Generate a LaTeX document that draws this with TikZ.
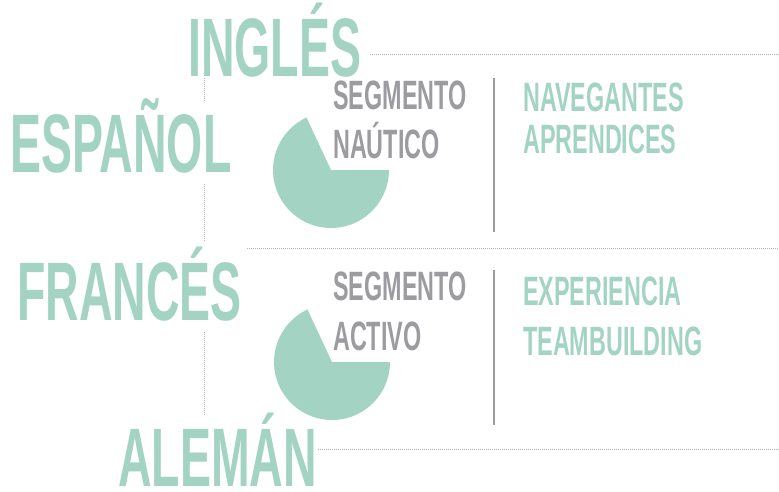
\documentclass[tikz,border=0pt]{standalone}
\usepackage{fontspec}
\newfontfamily\condfont[FakeStretch=0.56]{Liberation Sans}
\newfontfamily\smallcond[FakeStretch=0.57]{Liberation Sans}
\definecolor{mint}{HTML}{A3D3C3}
\definecolor{slate}{HTML}{9B9BA0}

\begin{document}
\begin{tikzpicture}[x=1pt,y=1pt,
    lang/.style={font=\condfont\bfseries\fontsize{83}{83}\selectfont,text=mint,inner sep=0,anchor=base west},
    seg/.style={font=\smallcond\bfseries\fontsize{41}{41}\selectfont,text=slate,inner sep=0,anchor=base west},
    tgt/.style={font=\smallcond\bfseries\fontsize{41}{41}\selectfont,text=mint,inner sep=0,anchor=base west},
    sep/.style={draw=gray!60,dash pattern=on 1pt off 1pt,line width=.6pt},
    bar/.style={draw=slate,line width=1.3pt}]
    \useasboundingbox (0,0) rectangle (779,-491);

    % languages
    \node[lang] (ingles) at (188,-76) {INGLÉS};
    \node[lang] (espanol) at (10,-172) {ESPAÑOL};
    \node[lang] (frances) at (17,-320) {FRANCÉS};
    \node[lang] (aleman) at (118,-486) {ALEMÁN};

    % segments
    \node[seg] (seg1a) at (333,-109) {SEGMENTO};
    \node[seg] (seg1b) at (333,-158) {NAÚTICO};
    \node[seg] (seg2a) at (333,-300) {SEGMENTO};
    \node[seg] (seg2b) at (333,-350) {ACTIVO};

    \node[tgt] (tgt1a) at (523,-111) {NAVEGANTES};
    \node[tgt] (tgt1b) at (523,-153) {APRENDICES};
    \node[tgt] (tgt2a) at (523,-305) {EXPERIENCIA};
    \node[tgt] (tgt2b) at (523,-355) {TEAMBUILDING};

    % pies
    \coordinate (pie1) at (331,-170);
    \coordinate (pie2) at (332,-362);
    \fill[mint] (pie1) -- ++(115:58) arc[start angle=115,end angle=360,radius=58] -- cycle;
    \fill[mint] (pie2) -- ++(115:58) arc[start angle=115,end angle=360,radius=58] -- cycle;

    % separators
    \coordinate (h1a) at (370,-54);   \coordinate (h1b) at (779,-54);
    \coordinate (h2a) at (247,-248);  \coordinate (h2b) at (779,-248);
    \coordinate (h3a) at (318,-449);  \coordinate (h3b) at (779,-449);
    \path[sep] (h1a) -- (h1b);
    \path[sep] (h2a) -- (h2b);
    \path[sep] (h3a) -- (h3b);

    \coordinate (v1a) at (204,-78);   \coordinate (v1b) at (204,-102);
    \coordinate (v2a) at (204,-184);  \coordinate (v2b) at (204,-242);
    \coordinate (v3a) at (204,-332);  \coordinate (v3b) at (204,-416);
    \path[sep] (v1a) -- (v1b);
    \path[sep] (v2a) -- (v2b);
    \path[sep] (v3a) -- (v3b);

    \coordinate (b1a) at (494,-78);   \coordinate (b1b) at (494,-232);
    \coordinate (b2a) at (494,-270);  \coordinate (b2b) at (494,-425);
    \path[bar] (b1a) -- (b1b);
    \path[bar] (b2a) -- (b2b);

  \end{tikzpicture}
\end{document}
